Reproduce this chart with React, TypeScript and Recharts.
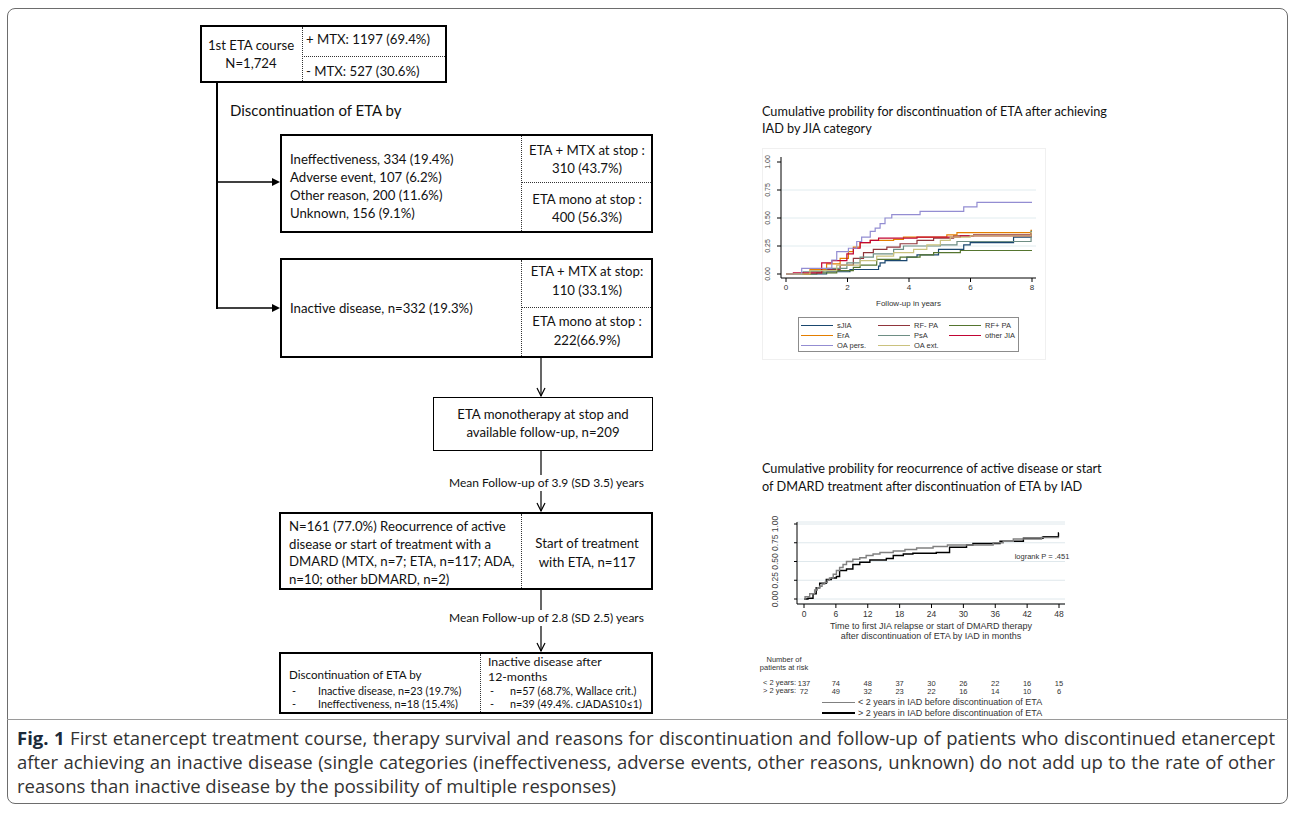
import React from 'react';
import { LineChart, Line, XAxis, YAxis, CartesianGrid } from 'recharts';

const CAL = 'Lato, "Open Sans", sans-serif';
const ARIAL = '"Liberation Sans", Arial, sans-serif';
const CAP = '"Open Sans", sans-serif';

// --- chart 1: discontinuation of ETA after IAD, by JIA category (years, cum. prob.)
const YEAR_TICKS = [0, 2, 4, 6, 8];
const PROB_TICKS = [0, 0.25, 0.5, 0.75, 1];

const SJIA = [[0, 0], [1.32, 0.02], [2.08, 0.04], [3.01, 0.07], [3.06, 0.1], [3.22, 0.12], [3.93, 0.15], [4.26, 0.17], [4.96, 0.22], [5.78, 0.26], [5.99, 0.28], [7.4, 0.33], [7.97, 0.37], [8, 0.37]];
const RF_NEG = [[0, 0], [0.78, 0.02], [1.2, 0.04], [1.76, 0.08], [2.19, 0.14], [2.52, 0.19], [2.84, 0.22], [3.28, 0.24], [3.71, 0.27], [4.26, 0.3], [4.8, 0.32], [5.45, 0.34], [6.1, 0.35], [7.97, 0.36], [8, 0.36]];
const RF_POS = [[0, 0], [1.0, 0.01], [1.65, 0.03], [2.19, 0.06], [2.41, 0.08], [2.95, 0.13], [3.71, 0.15], [4.36, 0.17], [4.8, 0.19], [5.67, 0.21], [8, 0.21]];
const ERA = [[0, 0], [0.78, 0.04], [1.32, 0.09], [1.76, 0.14], [2.03, 0.2], [2.19, 0.24], [2.41, 0.28], [2.74, 0.3], [3.5, 0.31], [3.82, 0.33], [5.23, 0.35], [5.56, 0.37], [7.97, 0.39], [8, 0.39]];
const PSA = [[0, 0], [0.56, 0.02], [1.32, 0.05], [1.98, 0.1], [2.41, 0.15], [2.84, 0.18], [3.5, 0.22], [3.82, 0.25], [5.02, 0.26], [5.56, 0.29], [7.97, 0.38], [8, 0.38]];
const OTHER_JIA = [[0, 0], [0.24, 0.01], [1.16, 0.1], [1.49, 0.12], [1.98, 0.18], [2.19, 0.23], [2.41, 0.28], [2.74, 0.3], [3.01, 0.32], [4.26, 0.33], [5.67, 0.34], [7.97, 0.36], [8, 0.36]];
const OA_PERS = [[0, 0], [0.51, 0.05], [1.49, 0.125], [1.65, 0.2], [2.03, 0.23], [2.3, 0.29], [2.46, 0.33], [2.74, 0.38], [2.9, 0.41], [3.06, 0.45], [3.22, 0.5], [3.44, 0.53], [4.36, 0.56], [5.78, 0.6], [6.21, 0.64], [8, 0.64]];
const OA_EXT = [[0, 0], [0.78, 0.03], [1.65, 0.08], [2.41, 0.12], [2.95, 0.16], [3.5, 0.19], [4.15, 0.22], [4.58, 0.26], [5.02, 0.3], [5.34, 0.33], [5.99, 0.34], [7.97, 0.37], [8, 0.37]];

const JIA_SERIES = [
  { name: 'sJIA', color: '#1a476f', data: SJIA },
  { name: 'RF- PA', color: '#90353b', data: RF_NEG },
  { name: 'RF+ PA', color: '#55752f', data: RF_POS },
  { name: 'ErA', color: '#e37e00', data: ERA },
  { name: 'PsA', color: '#6e8e84', data: PSA },
  { name: 'other JIA', color: '#c10534', data: OTHER_JIA },
  { name: 'OA pers.', color: '#938dd2', data: OA_PERS },
  { name: 'OA ext.', color: '#cac27e', data: OA_EXT },
];

// --- chart 2: relapse / DMARD start after stopping ETA (months, cum. prob.)
const MONTH_TICKS = [0, 6, 12, 18, 24, 30, 36, 42, 48];
const LT2_CURVE = [[0, 0], [0.2, 0.03], [1.07, 0.07], [2.0, 0.12], [2.5, 0.15], [2.95, 0.17], [3.4, 0.2], [3.9, 0.22], [4.4, 0.25], [4.8, 0.28], [5.5, 0.33], [6.1, 0.38], [6.7, 0.42], [7.35, 0.46], [8.0, 0.5], [9.2, 0.53], [10.5, 0.55], [11.7, 0.58], [13.0, 0.6], [14.3, 0.62], [16.8, 0.64], [19.0, 0.66], [21.2, 0.68], [24.3, 0.7], [27.0, 0.72], [35.6, 0.75], [37.5, 0.77], [39.4, 0.8], [44.7, 0.82], [48, 0.82]];
const GT2_CURVE = [[0, 0], [0.75, 0.01], [1.7, 0.07], [2.3, 0.15], [2.95, 0.21], [4.2, 0.26], [5.15, 0.28], [6.1, 0.3], [6.7, 0.38], [8.0, 0.4], [9.2, 0.46], [10.5, 0.49], [12.4, 0.52], [15.5, 0.54], [16.8, 0.58], [18.7, 0.6], [20.5, 0.61], [24.9, 0.62], [27.4, 0.69], [30.6, 0.72], [31.8, 0.74], [36.9, 0.77], [41.3, 0.81], [45.0, 0.83], [47.9, 0.88], [48, 0.88]];
const AT_RISK_LT2 = [137, 74, 48, 37, 30, 26, 22, 16, 15];
const AT_RISK_GT2 = [72, 49, 32, 23, 22, 16, 14, 10, 6];

const toPts = (a: number[][]) => a.map(([t, p]) => ({ t, p }));

const T = ({ x, y, size = 13.2, center = false, font = CAL, color = '#111', bg, children }: any) => (
  <div
    style={{
      position: 'absolute', left: x, top: y, whiteSpace: 'nowrap', fontFamily: font, fontSize: size,
      color, lineHeight: 1, transform: center ? 'translate(-50%, -50%)' : 'translateY(-50%)',
      background: bg, padding: bg ? '2px 0' : undefined,
    }}
  >
    {children}
  </div>
);

const Box = ({ x, y, w, h, b = 2 }: any) => (
  <div style={{ position: 'absolute', left: x, top: y, width: w, height: h, boxSizing: 'border-box', border: `${b}px solid #000` }} />
);

const VDot = ({ x, y1, y2 }: any) => (
  <div style={{ position: 'absolute', left: x, top: y1, height: y2 - y1, borderLeft: '1px dotted #333' }} />
);
const HDot = ({ x1, x2, y }: any) => (
  <div style={{ position: 'absolute', left: x1, top: y, width: x2 - x1, borderTop: '1px dotted #333' }} />
);

const RotTick = ({ x, y, payload, fs }: any) => (
  <text x={x} y={y} transform={`rotate(-90 ${x} ${y})`} textAnchor="middle" fontSize={fs} fill="#444" fontFamily={ARIAL}>
    {payload.value.toFixed(2)}
  </text>
);

const RiskTick = ({ x, y, payload }: any) => {
  const i = MONTH_TICKS.indexOf(payload.value);
  return (
    <g fontFamily={ARIAL} fill="#333" textAnchor="middle">
      <text x={x} y={y} dy="0.71em" fontSize={8.5}>{payload.value}</text>
      <text x={x} y={y + 72} dy="0.35em" fontSize={7.5}>{AT_RISK_LT2[i]}</text>
      <text x={x} y={y + 80} dy="0.35em" fontSize={7.5}>{AT_RISK_GT2[i]}</text>
    </g>
  );
};

function Connectors() {
  const head = (x: number, y: number, dir: 'r' | 'd') =>
    dir === 'r'
      ? <polygon points={`${x},${y} ${x - 8},${y - 4} ${x - 8},${y + 4}`} fill="#000" />
      : <polyline points={`${x - 4},${y - 8} ${x},${y} ${x + 4},${y - 8}`} fill="none" stroke="#000" strokeWidth={1.2} />;
  return (
    <svg width={1295} height={824} style={{ position: 'absolute', left: 0, top: 0 }}>
      <line x1={217} y1={83} x2={217} y2={309} stroke="#000" strokeWidth={2} />
      <line x1={216} y1={182} x2={274} y2={182} stroke="#000" strokeWidth={1.5} />
      {head(280, 182, 'r')}
      <line x1={216} y1={308} x2={274} y2={308} stroke="#000" strokeWidth={1.5} />
      {head(280, 308, 'r')}
      <line x1={541} y1={358} x2={541} y2={396} stroke="#000" strokeWidth={1.2} />
      {head(541, 396, 'd')}
      <line x1={541} y1={451} x2={541} y2={511} stroke="#000" strokeWidth={1.2} />
      {head(541, 511, 'd')}
      <line x1={541} y1={589} x2={541} y2={651} stroke="#000" strokeWidth={1.2} />
      {head(541, 651, 'd')}
    </svg>
  );
}

export default function App() {
  return (
    <div style={{ position: 'absolute', left: 0, top: 0, width: 1295, height: 824, background: '#fff', overflow: 'hidden' }}>
      {/* figure frame */}
      <div style={{ position: 'absolute', left: 7, top: 8, width: 1281, height: 796, boxSizing: 'border-box', border: '1.5px solid #6d6d6d', borderRadius: 8 }} />
      <div style={{ position: 'absolute', left: 7, top: 719, width: 1281, borderTop: '1px solid #9a9a9a' }} />

      {/* flowchart */}
      <Box x={200} y={25} w={247} h={58} />
      <VDot x={302} y1={27} y2={81} />
      <HDot x1={302} x2={445} y={56} />
      <T x={251} y={46} center>1st ETA course</T>
      <T x={251} y={64} center>N=1,724</T>
      <T x={306} y={40}>+ MTX: 1197 (69.4%)</T>
      <T x={306} y={72}>- MTX: 527 (30.6%)</T>

      <T x={230} y={110} size={15}>Discontinuation of ETA by</T>

      <Box x={280} y={134} w={373} h={99} />
      <VDot x={521} y1={136} y2={231} />
      <HDot x1={521} x2={651} y={182} />
      <T x={290} y={160}>Ineffectiveness, 334 (19.4%)</T>
      <T x={290} y={178}>Adverse event, 107 (6.2%)</T>
      <T x={290} y={196}>Other reason, 200 (11.6%)</T>
      <T x={290} y={214}>Unknown, 156 (9.1%)</T>
      <T x={587} y={151} center>ETA + MTX at stop :</T>
      <T x={587} y={169} center>310 (43.7%)</T>
      <T x={587} y={200} center>ETA mono at stop :</T>
      <T x={587} y={218} center>400 (56.3%)</T>

      <Box x={280} y={258} w={373} h={100} />
      <VDot x={521} y1={260} y2={356} />
      <HDot x1={521} x2={651} y={307} />
      <T x={290} y={309}>Inactive disease, n=332 (19.3%)</T>
      <T x={587} y={272} center>ETA + MTX at stop:</T>
      <T x={587} y={291} center>110 (33.1%)</T>
      <T x={587} y={322} center>ETA mono at stop :</T>
      <T x={587} y={341} center>222(66.9%)</T>

      <Box x={433} y={397} w={220} h={54} b={1.2} />
      <T x={543} y={415} center>ETA monotherapy at stop and</T>
      <T x={543} y={433} center>available follow-up, n=209</T>

      <Box x={279} y={512} w={374} h={78} />
      <VDot x={521} y1={514} y2={588} />
      <T x={289} y={527}>N=161 (77.0%) Reocurrence of active</T>
      <T x={289} y={545}>disease or start of treatment with a</T>
      <T x={289} y={562}>DMARD (MTX, n=7; ETA, n=117; ADA,</T>
      <T x={289} y={580}>n=10; other bDMARD, n=2)</T>
      <T x={587} y={544} center>Start of treatment</T>
      <T x={587} y={563} center>with ETA, n=117</T>

      <Box x={279} y={652} w={374} h={62} />
      <VDot x={480} y1={654} y2={712} />
      <T x={289} y={675} size={11.6}>Discontinuation of ETA by</T>
      <T x={292} y={691} size={10.8}>-</T>
      <T x={318} y={691} size={10.8}>Inactive disease, n=23 (19.7%)</T>
      <T x={292} y={704} size={10.8}>-</T>
      <T x={318} y={704} size={10.8}>Ineffectiveness, n=18 (15.4%)</T>
      <T x={488} y={662} size={12.3}>Inactive disease after</T>
      <T x={488} y={677} size={12.3}>12-months</T>
      <T x={490} y={691} size={10.8}>-</T>
      <T x={510} y={691} size={10.8}>n=57 (68.7%, Wallace crit.)</T>
      <T x={490} y={704} size={10.8}>-</T>
      <T x={510} y={704} size={10.8}>n=39 (49.4%. cJADAS10≤1)</T>

      <Connectors />
      <T x={449} y={483} size={12} bg="#fff">Mean Follow-up of 3.9 (SD 3.5) years</T>
      <T x={449} y={618} size={12} bg="#fff">Mean Follow-up of 2.8 (SD 2.5) years</T>

      {/* chart 1 */}
      <T x={762} y={111} size={12.7}>Cumulative probility for discontinuation of ETA after achieving</T>
      <T x={762} y={128} size={12.7}>IAD by JIA category</T>
      <div style={{ position: 'absolute', left: 762, top: 148, width: 284, height: 212, boxSizing: 'border-box', border: '1px solid #f0f0f0' }} />
      <div style={{ position: 'absolute', left: 762, top: 148 }}>
        <LineChart width={284} height={212} margin={{ top: 9, right: 10, bottom: 52, left: 0 }}>
          <CartesianGrid vertical={false} horizontalValues={[0.25, 0.5, 0.75]} stroke="#e1ecef" />
          <XAxis
            type="number" dataKey="t" domain={[0, 8]} ticks={YEAR_TICKS} padding={{ left: 5, right: 4 }}
            height={30} tickSize={4} tickMargin={2} stroke="#000" interval={0}
            tick={{ fontSize: 8, fill: '#333', fontFamily: ARIAL }}
            label={{ value: 'Follow-up in years', position: 'insideBottom', offset: 2, fontSize: 8, fill: '#333', fontFamily: ARIAL }}
          />
          <YAxis
            type="number" domain={[0, 1]} ticks={PROB_TICKS} padding={{ top: 5, bottom: 4 }} interval={0}
            width={19} tickSize={4} tickMargin={7} stroke="#000" tick={<RotTick fs={7} />}
          />
          {JIA_SERIES.map((s) => (
            <Line
              key={s.name} data={toPts(s.data)} dataKey="p" type="stepAfter" stroke={s.color}
              strokeWidth={1.2} dot={false} isAnimationActive={false}
            />
          ))}
        </LineChart>
      </div>
      <div
        style={{
          position: 'absolute', left: 798, top: 317, width: 221, height: 35, boxSizing: 'border-box',
          border: '1px solid #8c8c8c', fontFamily: ARIAL, fontSize: 7.5, color: '#333',
        }}
      >
        {JIA_SERIES.map((s, i) => {
          const col = [2, 79, 150][i % 3];
          const row = Math.floor(i / 3);
          return (
            <div key={s.name} style={{ position: 'absolute', left: col, top: 3 + row * 10, height: 9, display: 'flex', alignItems: 'center' }}>
              <div style={{ width: 32, height: 1.5, background: s.color }} />
              <span style={{ marginLeft: 4, whiteSpace: 'nowrap' }}>{s.name}</span>
            </div>
          );
        })}
      </div>

      {/* chart 2 */}
      <T x={762} y={468} size={12.7}>Cumulative probility for reocurrence of active disease or start</T>
      <T x={762} y={486} size={12.7}>of DMARD treatment after discontinuation of ETA by IAD</T>
      <div style={{ position: 'absolute', left: 762, top: 510 }}>
        <LineChart width={310} height={200} margin={{ top: 12, right: 7, bottom: 0, left: 0 }}>
          <CartesianGrid vertical={false} stroke="#dfe8ec" />
          <XAxis
            type="number" dataKey="t" domain={[0, 48]} ticks={MONTH_TICKS} padding={{ left: 7, right: 6 }} interval={0}
            height={106} tickSize={4} tickMargin={3} stroke="#000" tick={<RiskTick />}
          />
          <YAxis
            type="number" domain={[0, 1]} ticks={PROB_TICKS} padding={{ top: 2, bottom: 5 }} interval={0}
            width={35} tickSize={3} tickMargin={16} stroke="#000" tick={<RotTick fs={8.5} />}
          />
          <Line data={toPts(GT2_CURVE)} dataKey="p" type="stepAfter" stroke="#000" strokeWidth={1.4} dot={false} isAnimationActive={false} />
          <Line data={toPts(LT2_CURVE)} dataKey="p" type="stepAfter" stroke="#808080" strokeWidth={1.4} dot={false} isAnimationActive={false} />
        </LineChart>
      </div>
      <T x={1042} y={557} size={7.5} font={ARIAL} color="#333" center>logrank P = .451</T>
      <T x={931} y={626} size={9} font={ARIAL} color="#333" center>Time to first JIA relapse or start of DMARD therapy</T>
      <T x={931} y={636} size={9} font={ARIAL} color="#333" center>after discontinuation of ETA by IAD in months</T>
      <T x={784} y={660} size={7.5} font={ARIAL} color="#333" center>Number of</T>
      <T x={784} y={668} size={7.5} font={ARIAL} color="#333" center>patients at risk</T>
      <T x={763} y={683} size={7.5} font={ARIAL} color="#333">&lt; 2 years:</T>
      <T x={763} y={691} size={7.5} font={ARIAL} color="#333">&gt; 2 years:</T>
      <div style={{ position: 'absolute', left: 822, top: 702, width: 33, borderTop: '1px solid #808080' }} />
      <T x={858} y={702} size={9} font={ARIAL} color="#333">&lt; 2 years in IAD before discontinuation of ETA</T>
      <div style={{ position: 'absolute', left: 822, top: 712, width: 33, borderTop: '2px solid #000' }} />
      <T x={858} y={713} size={9} font={ARIAL} color="#333">&gt; 2 years in IAD before discontinuation of ETA</T>

      {/* caption */}
      <div style={{ position: 'absolute', left: 17, top: 726, width: 1258, fontFamily: CAP, fontSize: 18.5, color: '#333', lineHeight: '24px' }}>
        <div style={{ textAlign: 'justify', textAlignLast: 'justify', whiteSpace: 'nowrap' }}>
          <b style={{ color: '#1b2a3a' }}>Fig. 1</b> First etanercept treatment course, therapy survival and reasons for discontinuation and follow-up of patients who discontinued etanercept
        </div>
        <div style={{ textAlign: 'justify', textAlignLast: 'justify', whiteSpace: 'nowrap' }}>
          after achieving an inactive disease (single categories (ineffectiveness, adverse events, other reasons, unknown) do not add up to the rate of other
        </div>
        <div style={{ whiteSpace: 'nowrap' }}>reasons than inactive disease by the possibility of multiple responses)</div>
      </div>
    </div>
  );
}
